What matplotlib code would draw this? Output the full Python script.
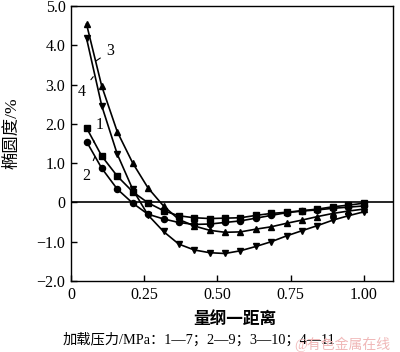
#%%
import numpy as np
import matplotlib
matplotlib.use("Agg")
import matplotlib.pyplot as plt

plt.rcParams['font.family'] = ['Liberation Serif', 'Noto Sans CJK SC']

#%% data
x = [0.053, 0.105, 0.158, 0.211, 0.263, 0.316, 0.368, 0.421, 0.474, 0.526,
     0.579, 0.632, 0.684, 0.737, 0.789, 0.842, 0.895, 0.947, 1.000]

ovality_1 = [1.90, 1.18, 0.67, 0.27, -0.01, -0.21, -0.34, -0.39, -0.41, -0.40,
             -0.39, -0.33, -0.28, -0.25, -0.21, -0.17, -0.11, -0.07, -0.02]
ovality_2 = [1.55, 0.87, 0.34, -0.02, -0.30, -0.42, -0.51, -0.56, -0.55, -0.51,
             -0.47, -0.40, -0.33, -0.26, -0.22, -0.19, -0.15, -0.12, -0.09]
ovality_3 = [4.54, 2.96, 1.80, 1.00, 0.37, -0.09, -0.43, -0.60, -0.71, -0.76,
             -0.75, -0.68, -0.62, -0.53, -0.45, -0.36, -0.28, -0.22, -0.17]
ovality_4 = [4.18, 2.46, 1.23, 0.33, -0.32, -0.74, -1.06, -1.21, -1.28, -1.30,
             -1.23, -1.12, -1.00, -0.85, -0.72, -0.59, -0.45, -0.34, -0.24]

xticks = [0, 0.25, 0.50, 0.75, 1.00]
xticklabels = ["0", "0.25", "0.50", "0.75", "1.00"]
yticks = [-2.0, -1.0, 0, 1.0, 2.0, 3.0, 4.0, 5.0]
yticklabels = ["\u22122.0", "\u22121.0", "0", "1.0", "2.0", "3.0", "4.0", "5.0"]

#%% plot
fig = plt.figure(figsize=(4.0, 3.52), dpi=100)
ax = fig.add_axes([0.1775, 0.2017, 0.805, 0.7813])

kw = dict(color="black", lw=1.2, markersize=4.4)
ax.plot(x, ovality_1, marker="s", **kw)
ax.plot(x, ovality_2, marker="o", **kw)
ax.plot(x, ovality_3, marker="^", **kw)
ax.plot(x, ovality_4, marker="v", **kw)
ax.axhline(0, color="black", lw=1.2)

ax.set_xlim(0, 1.1)
ax.set_ylim(-2.0, 5.0)
ax.set_xticks(xticks)
ax.set_xticklabels(xticklabels)
ax.set_yticks(yticks)
ax.set_yticklabels(yticklabels)
ax.tick_params(direction="in", length=4, width=1, labelsize=11.5, pad=4)
for s in ax.spines.values():
    s.set_linewidth(1.0)

# curve labels with leader lines
ax.annotate("3", xy=(0.085, 3.6), xytext=(0.135, 3.85), fontsize=11.5,
            ha="center", va="center",
            arrowprops=dict(arrowstyle="-", lw=0.8, shrinkA=3, shrinkB=0))
ax.annotate("4", xy=(0.076, 3.2), xytext=(0.036, 2.82), fontsize=11.5,
            ha="center", va="center",
            arrowprops=dict(arrowstyle="-", lw=0.8, shrinkA=3, shrinkB=0))
ax.annotate("1", xy=(0.078, 1.53), xytext=(0.098, 1.97), fontsize=11.5,
            ha="center", va="center",
            arrowprops=dict(arrowstyle="-", lw=0.8, shrinkA=4, shrinkB=0))
ax.annotate("2", xy=(0.082, 1.17), xytext=(0.053, 0.66), fontsize=11.5,
            ha="center", va="center",
            arrowprops=dict(arrowstyle="-", lw=0.8, shrinkA=4, shrinkB=0))

fig.text(13 / 400, 1 - 133 / 352, "椭圆度/%", fontsize=12.5, rotation=90,
         ha="center", va="center")
fig.text(235 / 400, 1 - 320 / 352, "量纲一距离", fontsize=12, fontweight="bold",
         ha="center", va="center")

fig.text(63 / 400, 1 - 340 / 352, "加载压力/MPa：1—7；2—9；3—10；4—11", fontsize=10.3,
         ha="left", va="center")
fig.text(0.735, 0.022, "@有色金属在线", fontsize=10, color="#f0b8b8",
         ha="left", va="center")

fig.savefig("out.png", dpi=100)
